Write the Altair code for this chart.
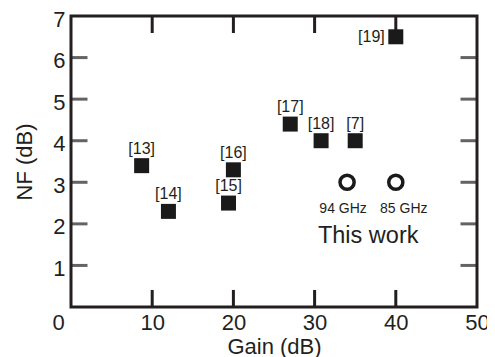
import altair as alt
import pandas as pd

# ---- data ----
ref_gain = [8.7, 12.0, 19.4, 20.0, 27.0, 30.8, 35.0, 40.0]
ref_nf = [3.4, 2.3, 2.5, 3.3, 4.4, 4.0, 4.0, 6.5]
ref_label = ["[13]", "[14]", "[15]", "[16]", "[17]", "[18]", "[7]", "[19]"]

work_gain = [34.0, 40.0]
work_nf = [3.0, 3.0]
work_label = ["94 GHz", "85 GHz"]

note_text = ["This work"]
note_gain = [36.6]
note_nf = [1.54]

x_labels = [0, 10, 20, 30, 40, 50]
y_labels = [1, 2, 3, 4, 5, 6, 7]
x_major = [10, 20, 30, 40]
y_major = [1, 2, 3, 4, 5, 6]

# ---- styling ----
W, H = 406, 291
FONT = "Liberation Sans"
INK = "#231f20"

xs = alt.Scale(domain=[0, 50], nice=False, zero=False)
ys = alt.Scale(domain=[0, 7], nice=False, zero=False)

x_axis = alt.Axis(
    values=x_labels, ticks=False, domain=False, grid=False,
    labelFont=FONT, labelFontSize=22, labelColor=INK, labelPadding=5,
    labelFlush=False, labelOverlap=False,
    labelOffset={"condition": {"test": "datum.value === 0", "value": -13}, "value": 0},
    title="Gain (dB)", titleFont=FONT, titleFontSize=22, titleFontWeight="normal",
    titleColor=INK, titlePadding=3,
)
y_axis = alt.Axis(
    values=y_labels, ticks=False, domain=False, grid=False,
    labelFont=FONT, labelFontSize=22, labelColor=INK, labelPadding=6,
    labelFlush=False, labelOverlap=False, labelOffset=3,
    title="NF (dB)", titleFont=FONT, titleFontSize=22, titleFontWeight="normal",
    titleColor=INK, titlePadding=16,
)


def X():
    return alt.X("gain:Q", scale=xs, axis=x_axis)


def Y():
    return alt.Y("nf:Q", scale=ys, axis=y_axis)


refs = pd.DataFrame({"gain": ref_gain, "nf": ref_nf, "label": ref_label})
work = pd.DataFrame({"gain": work_gain, "nf": work_nf, "label": work_label})
note = pd.DataFrame({"gain": note_gain, "nf": note_nf, "label": note_text})

layers = []

d1 = pd.DataFrame({"gain": x_major})
layers.append(alt.Chart(d1).mark_rule(color=INK, strokeWidth=3).encode(
    x=X(), y=alt.datum(0, scale=ys), y2=alt.datum(0.41)))
layers.append(alt.Chart(d1).mark_rule(color=INK, strokeWidth=3).encode(
    x=X(), y=alt.value(0), y2=alt.value(17)))
d2 = pd.DataFrame({"nf": y_major})
layers.append(alt.Chart(d2).mark_tick(color=INK, size=17, thickness=3).encode(
    y=Y(), x=alt.value(8)))
layers.append(alt.Chart(d2).mark_tick(color=INK, size=17, thickness=3).encode(
    y=Y(), x=alt.value(W - 8)))

squares = alt.Chart(refs).mark_point(
    shape="square", filled=True, size=225, color="#1a1a1a", opacity=1
).encode(x=X(), y=Y())

lab_above = alt.Chart(refs).transform_filter(
    "datum.label !== '[19]'"
).mark_text(
    font=FONT, fontSize=16, color=INK, baseline="alphabetic", dy=-12
).encode(x=X(), y=Y(), text="label:N")

lab_left = alt.Chart(refs).transform_filter(
    "datum.label === '[19]'"
).mark_text(
    font=FONT, fontSize=16, color=INK, align="right", baseline="middle", dx=-11
).encode(x=X(), y=Y(), text="label:N")

circles = alt.Chart(work).mark_point(
    shape="circle", filled=False, size=200, strokeWidth=3.5, color="#1a1a1a", opacity=1
).encode(x=X(), y=Y())

freq_a = alt.Chart(work).transform_filter(
    "datum.label === '94 GHz'"
).mark_text(
    font=FONT, fontSize=14, color=INK, baseline="alphabetic", dy=31, dx=-4
).encode(x=X(), y=Y(), text="label:N")

freq_b = alt.Chart(work).transform_filter(
    "datum.label === '85 GHz'"
).mark_text(
    font=FONT, fontSize=14, color=INK, baseline="alphabetic", dy=31, dx=8
).encode(x=X(), y=Y(), text="label:N")

note_mark = alt.Chart(note).mark_text(
    font=FONT, fontSize=23.5, color=INK, baseline="alphabetic"
).encode(x=X(), y=Y(), text="label:N")

layers += [squares, lab_above, lab_left, circles, freq_a, freq_b, note_mark]

chart = alt.layer(*layers).properties(
    width=W, height=H,
    autosize=alt.AutoSizeParams(type="none"),
    padding={"left": 63, "top": 8, "right": 10, "bottom": 50},
).configure_view(stroke=INK, strokeWidth=3)

chart.save("out.html", embed_options={"renderer": "svg", "actions": False})
